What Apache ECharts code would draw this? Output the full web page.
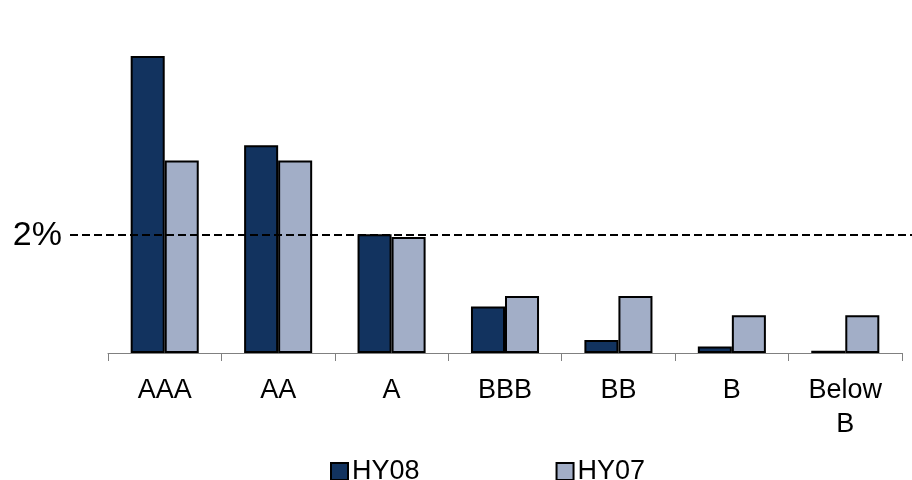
<!DOCTYPE html>
<html>
<head>
<meta charset="utf-8">
<script src="https://cdn.jsdelivr.net/npm/echarts@6/dist/echarts.min.js"></script>
<style>
  html, body { margin: 0; padding: 0; background: #ffffff; }
  #chart { width: 912px; height: 480px; }
</style>
</head>
<body>
<div id="chart"></div>
<script>
// Rating buckets and their values (%) for the two half-years
const categories = ['AAA', 'AA', 'A', 'BBB', 'BB', 'B', 'Below\nB'];
const hy08 = [5.05, 3.53, 2.02, 0.79, 0.22, 0.11, 0.04];
const hy07 = [3.27, 3.27, 1.97, 0.97, 0.97, 0.64, 0.64];
const seriesNames = ['HY08', 'HY07'];
const referenceLevel = 2; // dashed threshold line, in %

const FONT = '"Liberation Sans", Arial, Helvetica, sans-serif';

const chart = echarts.init(document.getElementById('chart'), null, { renderer: 'canvas' });

chart.setOption({
  animation: false,
  backgroundColor: '#ffffff',
  grid: { left: 108, right: 10, top: 0, bottom: 127, containLabel: false },
  legend: {
    data: seriesNames,
    left: 325,
    top: 453,
    itemWidth: 17,
    itemHeight: 17,
    itemGap: 136,
    icon: 'rect',
    textStyle: { fontFamily: FONT, fontSize: 27, color: '#000000', padding: [0, 0, 0, -1] }
  },
  xAxis: {
    type: 'category',
    data: categories,
    boundaryGap: true,
    axisLine: { lineStyle: { color: '#808080', width: 1 } },
    axisTick: { show: true, length: 8, alignWithLabel: false, lineStyle: { color: '#808080' } },
    axisLabel: {
      fontFamily: FONT,
      fontSize: 27,
      lineHeight: 34,
      color: '#000000',
      margin: 21,
      interval: 0
    }
  },
  yAxis: {
    type: 'value',
    min: 0,
    max: 6,
    interval: 2,
    axisLine: { show: false },
    axisTick: { show: false },
    splitLine: { show: false },
    axisLabel: {
      fontFamily: FONT,
      fontSize: 34,
      color: '#000000',
      margin: 46,
      formatter: v => (v === referenceLevel ? referenceLevel + '%' : '')
    }
  },
  series: [
    {
      name: seriesNames[0],
      type: 'bar',
      data: hy08,
      barGap: '0%',
      barCategoryGap: '40%',
      itemStyle: { color: '#12335f', borderColor: '#000000', borderWidth: 2 }
    },
    {
      name: seriesNames[1],
      type: 'bar',
      data: hy07,
      barGap: '0%',
      barCategoryGap: '40%',
      itemStyle: { color: '#a2aec7', borderColor: '#000000', borderWidth: 2 }
    }
  ]
});

// Dashed threshold line, positioned through the value axis
const yRef = Math.round(chart.convertToPixel({ yAxisIndex: 0 }, referenceLevel));
chart.setOption({
  graphic: [{
    type: 'line',
    z: 100,
    shape: { x1: 70, y1: yRef, x2: 912, y2: yRef },
    style: { stroke: '#000000', lineWidth: 2, lineDash: [8, 4] }
  }]
});
</script>
</body>
</html>
